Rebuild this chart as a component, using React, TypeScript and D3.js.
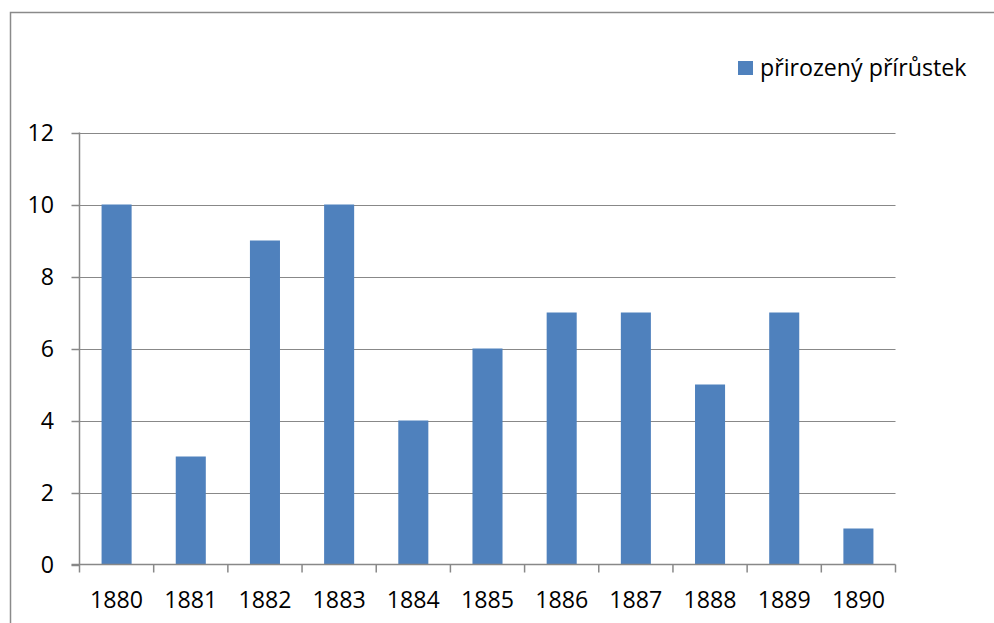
import React from "react";
import * as d3 from "d3";

const categories = ["1880", "1881", "1882", "1883", "1884", "1885", "1886", "1887", "1888", "1889", "1890"];
const values = [10, 3, 9, 10, 4, 6, 7, 7, 5, 7, 1];
const yTicks = [0, 2, 4, 6, 8, 10, 12];
const seriesName = "přirozený přírůstek";

const W = 994;
const H = 623;
const left = 79.5;
const right = 895.5;
const top = 132.5;
const bottom = 564.5;
const FONT = "'Open Sans', 'Liberation Sans', sans-serif";
const FS = 23.2;
const BAR = "#4F81BD";
const GRID = "#888888";

export default function App() {
  const x = d3.scaleBand<string>().domain(categories).range([left, right]).padding(0);
  const y = d3.scaleLinear().domain([0, 12]).range([bottom, top]);
  const step = x.bandwidth();
  const barW = step * 0.405;

  return (
    <svg
      width={W}
      height={H}
      viewBox={`0 0 ${W} ${H}`}
      style={{ position: "absolute", left: 0, top: 0, background: "#fff" }}
    >
      <rect x={0} y={0} width={W} height={H} fill="#fff" />
      <rect x={10.5} y={12.5} width={W + 10} height={H + 10} fill="none" stroke="#8a8a8a" strokeWidth={1.5} />
      {/* gridlines */}
      {yTicks.filter((t) => t > 0).map((t) => (
        <line key={"g" + t} x1={left} x2={right} y1={Math.round(y(t)) + 0.5} y2={Math.round(y(t)) + 0.5} stroke={GRID} strokeWidth={1.2} />
      ))}
      {/* bars */}
      {values.map((v, i) => {
        const cx = (x(categories[i]) as number) + step / 2;
        return (
          <rect key={"b" + i} x={cx - barW / 2} y={y(v)} width={barW} height={y(0) - y(v)} fill={BAR} />
        );
      })}
      {/* y axis */}
      <line x1={left} x2={left} y1={top} y2={bottom} stroke={GRID} strokeWidth={1.5} />
      {yTicks.map((t) => (
        <g key={"y" + t}>
          <line x1={left - 8} x2={left} y1={Math.round(y(t)) + 0.5} y2={Math.round(y(t)) + 0.5} stroke={GRID} strokeWidth={1.5} />
          <text x={54} y={y(t)} dy="0.35em" textAnchor="end" fontFamily={FONT} fontSize={FS} fill="#000">
            {t}
          </text>
        </g>
      ))}
      {/* x axis */}
      <line x1={left - 8} x2={right} y1={bottom} y2={bottom} stroke={GRID} strokeWidth={1.5} />
      {categories.map((c) => (
        <line key={"xt" + c} x1={x(c) as number} x2={x(c) as number} y1={bottom} y2={bottom + 8} stroke={GRID} strokeWidth={1.5} />
      ))}
      <line x1={right} x2={right} y1={bottom} y2={bottom + 8} stroke={GRID} strokeWidth={1.5} />
      {categories.map((c) => (
        <text key={"xl" + c} x={(x(c) as number) + step / 2} y={607.5} textAnchor="middle" fontFamily={FONT} fontSize={FS} fill="#000">
          {c}
        </text>
      ))}
      {/* legend */}
      <rect x={738} y={61} width={15} height={14} fill={BAR} />
      <text x={760} y={68} dy="0.35em" fontFamily={FONT} fontSize={FS} fill="#000">
        {seriesName}
      </text>
    </svg>
  );
}
